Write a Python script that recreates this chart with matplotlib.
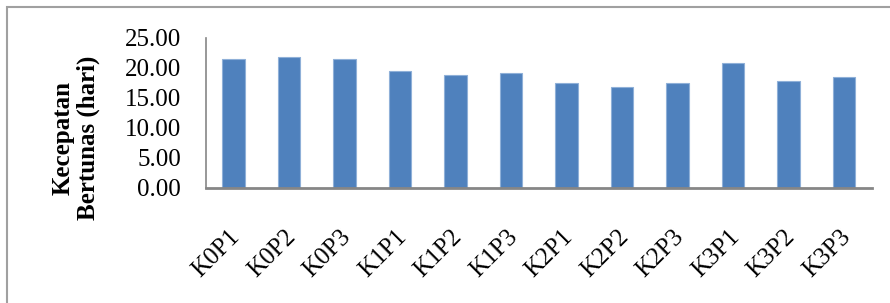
import matplotlib
matplotlib.use("Agg")
import matplotlib.pyplot as plt
import matplotlib.transforms as mtransforms
from matplotlib.patches import Rectangle

# data
labels = ["K0P1", "K0P2", "K0P3", "K1P1", "K1P2", "K1P3",
          "K2P1", "K2P2", "K2P3", "K3P1", "K3P2", "K3P3"]
values = [21.4, 21.8, 21.4, 19.4, 18.7, 19.1,
          17.4, 16.7, 17.4, 20.8, 17.7, 18.4]
yticks = [0, 5, 10, 15, 20, 25]

plt.rcParams['font.family'] = ['Liberation Serif', 'DejaVu Serif']

W, H = 890, 303
fig = plt.figure(figsize=(W / 100, H / 100), dpi=100)

# outer chart border (cut off on right and bottom)
fig.patches.append(Rectangle((7 / W, -0.2), 1.2, 1 - 7 / H + 0.2,
                             transform=fig.transFigure, fill=False,
                             edgecolor="#a0a0a0", linewidth=1.5))

ax = fig.add_axes([205.7 / W, (H - 188) / H, 666 / W, 150.5 / H])
x = range(len(labels))
ax.bar(x, values, width=0.4, color="#4f81bd", edgecolor="#8fb0d8", linewidth=0.8)

ax.set_xlim(-0.5, len(labels) - 0.5)
ax.set_ylim(0, 25)
ax.set_yticks(yticks)
ax.set_yticklabels([f"{v:.2f}" for v in yticks], fontsize=18)
ax.tick_params(axis='y', length=0, pad=17.8)
ax.tick_params(axis='x', length=0, pad=0)

ax.set_xticks(list(x))
ax.set_xticklabels(labels, fontsize=18, rotation=45, ha='right', va='center',
                   rotation_mode='anchor')
offset = mtransforms.ScaledTranslation(3 / 100, -45 / 100, fig.dpi_scale_trans)
for lab in ax.get_xticklabels():
    lab.set_transform(lab.get_transform() + offset)

for side in ("top", "right"):
    ax.spines[side].set_visible(False)
ax.spines["left"].set_color("#868686")
ax.spines["bottom"].set_color("#868686")
ax.spines["left"].set_linewidth(1.2)
ax.spines["bottom"].set_linewidth(2)

fig.text(76 / W, 1 - 138 / H, "Kecepatan\nBertunas (hari)", rotation=90,
         ha='center', va='center', fontsize=18, fontweight='bold',
         multialignment='center', linespacing=1.1)

fig.savefig("out.png", dpi=100)
